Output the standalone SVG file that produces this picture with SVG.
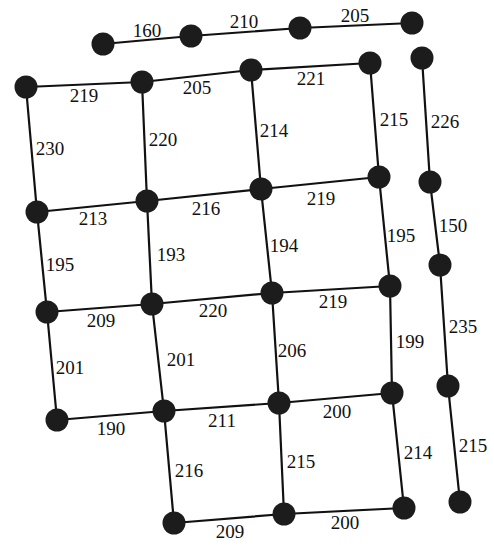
<svg xmlns="http://www.w3.org/2000/svg" width="494" height="545" viewBox="0 0 494 545">
<style>
.e{stroke:#111;stroke-width:2.2;fill:none}
.n{fill:#1c1c1c}
text{font-family:"Liberation Serif","DejaVu Serif",serif;font-size:19px;fill:#111;text-anchor:middle}
</style>
<rect width="494" height="545" fill="#fff"/>
<g id="connectors">
<path class="e" d="M103,44L191,36L300,28L412,23"/>
<path class="e" d="M26,87L142,82L251,70L370,63"/>
<path class="e" d="M37,212L147,201L261,189L379,177"/>
<path class="e" d="M47,312L152,304L272,293L390,286"/>
<path class="e" d="M57,420L164,411L279,403L392,393"/>
<path class="e" d="M174,523L284,514L404,508"/>
<path class="e" d="M26,87L37,212L47,312L57,420"/>
<path class="e" d="M142,82L147,201L152,304L164,411L174,523"/>
<path class="e" d="M251,70L261,189L272,293L279,403L284,514"/>
<path class="e" d="M370,63L379,177L390,286L392,393L404,508"/>
<path class="e" d="M422,58L430,182L440,265L448,386L460,502"/>
</g>
<g id="labels">
<text x="147" y="37">160</text>
<text x="244" y="28">210</text>
<text x="355" y="22">205</text>
<text x="84" y="102">219</text>
<text x="197" y="94">205</text>
<text x="311" y="85">221</text>
<text x="50" y="155">230</text>
<text x="163" y="146">220</text>
<text x="274" y="137">214</text>
<text x="394" y="126">215</text>
<text x="445" y="128">226</text>
<text x="93" y="225">213</text>
<text x="206" y="215">216</text>
<text x="321" y="205">219</text>
<text x="60" y="271">195</text>
<text x="171" y="261">193</text>
<text x="284" y="252">194</text>
<text x="401" y="242">195</text>
<text x="453" y="232">150</text>
<text x="101" y="327">209</text>
<text x="213" y="317">220</text>
<text x="333" y="308">219</text>
<text x="70" y="374">201</text>
<text x="181" y="366">201</text>
<text x="292" y="357">206</text>
<text x="410" y="348">199</text>
<text x="463" y="333">235</text>
<text x="111" y="435">190</text>
<text x="222" y="427">211</text>
<text x="337" y="418">200</text>
<text x="189" y="477">216</text>
<text x="301" y="468">215</text>
<text x="418" y="459">214</text>
<text x="473" y="452">215</text>
<text x="230" y="538">209</text>
<text x="345" y="529">200</text>
</g>
<g id="nodes">
<g id="a1"><circle class="n" cx="103" cy="44" r="11.5"/></g>
<g id="a2"><circle class="n" cx="191" cy="36" r="11.5"/></g>
<g id="a3"><circle class="n" cx="300" cy="28" r="11.5"/></g>
<g id="a4"><circle class="n" cx="412" cy="23" r="11.5"/></g>
<g id="b1"><circle class="n" cx="26" cy="87" r="11.5"/></g>
<g id="b2"><circle class="n" cx="142" cy="82" r="11.5"/></g>
<g id="b3"><circle class="n" cx="251" cy="70" r="11.5"/></g>
<g id="b4"><circle class="n" cx="370" cy="63" r="11.5"/></g>
<g id="d1"><circle class="n" cx="37" cy="212" r="11.5"/></g>
<g id="d2"><circle class="n" cx="147" cy="201" r="11.5"/></g>
<g id="d3"><circle class="n" cx="261" cy="189" r="11.5"/></g>
<g id="d4"><circle class="n" cx="379" cy="177" r="11.5"/></g>
<g id="e1"><circle class="n" cx="47" cy="312" r="11.5"/></g>
<g id="e2"><circle class="n" cx="152" cy="304" r="11.5"/></g>
<g id="e3"><circle class="n" cx="272" cy="293" r="11.5"/></g>
<g id="e4"><circle class="n" cx="390" cy="286" r="11.5"/></g>
<g id="f1"><circle class="n" cx="57" cy="420" r="11.5"/></g>
<g id="f2"><circle class="n" cx="164" cy="411" r="11.5"/></g>
<g id="f3"><circle class="n" cx="279" cy="403" r="11.5"/></g>
<g id="f4"><circle class="n" cx="392" cy="393" r="11.5"/></g>
<g id="g2"><circle class="n" cx="174" cy="523" r="11.5"/></g>
<g id="g3"><circle class="n" cx="284" cy="514" r="11.5"/></g>
<g id="g4"><circle class="n" cx="404" cy="508" r="11.5"/></g>
<g id="c1"><circle class="n" cx="422" cy="58" r="11.5"/></g>
<g id="c2"><circle class="n" cx="430" cy="182" r="11.5"/></g>
<g id="c3"><circle class="n" cx="440" cy="265" r="11.5"/></g>
<g id="c4"><circle class="n" cx="448" cy="386" r="11.5"/></g>
<g id="c5"><circle class="n" cx="460" cy="502" r="11.5"/></g>
</g>
</svg>
